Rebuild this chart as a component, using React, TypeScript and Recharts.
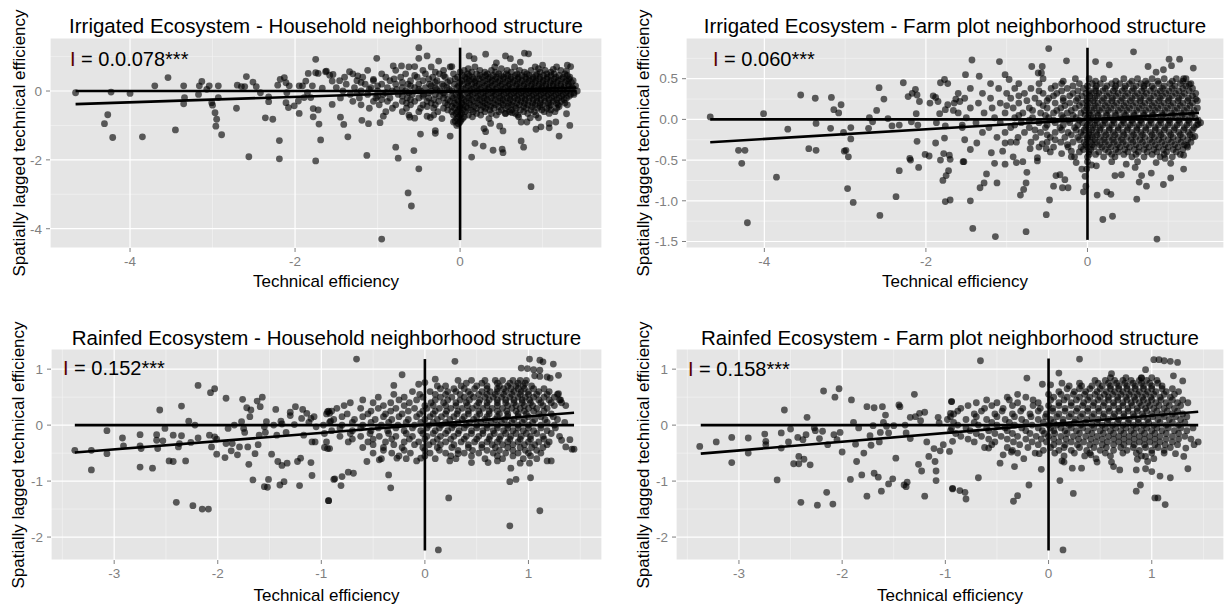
import { ScatterChart, Scatter, XAxis, YAxis, CartesianGrid, ReferenceLine } from 'recharts';

type Pt = [number, number];
type Row = [number, number[]];

// ---- Irrigated, household neighborhood ----
const irrHhSparse: Pt[] = [
  [-4.66, -0.05], [-4.23, -0.03], [-4.0, -0.07], [-4.27, -0.69], [-4.31, -0.95], [-4.21, -1.35], [-3.85, -1.33],
  [-3.54, 0.39], [-3.7, 0.15], [-3.45, -1.13], [-3.35, 0.15], [-3.34, -0.19], [-3.35, -0.37], [-3.17, -0.1],
  [-3.16, 0.15], [-3.13, 0.28], [-3.07, 0.05], [-3.04, 0.15], [-2.93, 0.15], [-2.93, -0.19], [-3.01, -0.34],
  [-3.0, -0.41], [-2.97, -0.63], [-2.95, -0.82], [-2.96, -1.02], [-2.89, -1.27], [-2.7, 0.17], [-2.65, 0.13],
  [-2.61, 0.13], [-2.59, 0.42], [-2.51, 0.26], [-2.47, 0.13], [-2.42, -0.05], [-2.71, -0.5], [-2.56, -1.91],
  [-2.36, -0.78], [-2.27, -0.82], [-2.32, -0.17], [-2.32, -0.31], [-2.21, 0.17], [-2.18, 0.34], [-2.13, 0.39],
  [-2.11, 0.24], [-2.07, 0.15], [-2.1, -0.05], [-2.11, -0.34], [-2.08, -0.48], [-2.19, -1.44], [-2.19, -1.97],
  [-2.01, -0.43], [-1.95, -0.65], [-1.96, -0.29], [-1.95, 0.15], [-1.91, 0.15], [-1.87, 0.29], [-1.84, 0.51],
  [-1.75, 0.92], [-1.75, 0.53], [-1.72, 0.51], [-1.79, 0.15], [-1.81, -0.19], [-1.78, -0.51], [-1.78, -0.75],
  [-1.72, -0.55], [-1.71, -0.96], [-1.69, -1.42], [-1.75, -2.03], [-1.63, 0.56], [-1.58, 0.46], [-1.67, 0.08],
  [-1.55, 0.29], [-1.55, -0.39], [-1.85, -0.05], [-1.89, -0.19],
  [-0.5, 1.26], [-0.5, 0.95], [-0.4, 1.02], [-1.01, 0.95], [-1.13, -1.87], [-0.78, -1.63], [-0.75, -1.95],
  [-0.56, -1.73], [-0.5, -2.26], [-0.63, -2.96], [-0.59, -3.34], [-0.95, -4.3], [-0.48, -1.25], [-0.3, -1.15],
  [-0.3, -1.23], [-0.12, -1.31], [-1.36, -1.33], [-1.41, -0.97], [-1.45, -0.76], [-1.19, -0.85], [-1.11, -0.95],
  [-0.97, -0.92], [-0.93, -0.73], [-0.61, -0.76], [-0.55, -0.79], [-0.4, -0.73], [-0.36, -0.77], [-0.04, -1.0],
  [-0.06, -0.87], [0.14, -1.92], [0.18, -1.52], [0.28, -1.6], [0.4, -1.72], [0.51, -1.69], [0.52, -1.79],
  [0.29, -1.09], [0.31, -1.18], [0.37, -0.94], [0.48, -1.02], [0.52, -1.16], [0.74, -1.45], [0.77, -1.63],
  [0.86, -2.78], [0.92, -1.11], [0.98, -1.04], [1.08, -1.07], [1.2, -1.31], [1.29, -0.66], [1.33, -1.0],
  [1.16, -0.9], [1.08, -0.94], [0.81, -0.9], [0.85, -0.78], [0.95, -0.78], [0.74, -0.9], [0.55, -0.65],
  [0.63, -0.63], [0.67, -0.65], [0.71, -0.75], [1.3, 0.75], [1.34, 0.71], [1.29, 0.58], [1.38, -0.1],
  [0.78, 1.1], [0.55, 1.02], [0.61, 0.94], [0.31, 1.07], [0.11, 1.02], [0.17, 0.94], [0.44, 0.82], [0.73, 0.84],
  [0.83, 1.08], [1.0, 0.75], [1.13, 0.63], [-0.26, 0.87], [-0.71, 0.73], [-0.81, 0.73], [-0.55, 0.71], [-0.1, 0.71],
  [-1.62, 0.58], [-1.54, 0.48], [-1.34, 0.56], [-1.24, 0.44], [-1.05, 0.34],
];
const irrHhRows: Row[] = [
  [0.7, [-0.62, -0.35, -0.12, 0.18, 0.42, 0.66, 0.91, 1.17]],
  [0.6, [-1.12, -0.78, -0.45, -0.2, 0.05, 0.24, 0.38, 0.57, 0.72, 0.86, 1.03, 1.22]],
  [0.5, [-1.3, -0.95, -0.66, -0.42, -0.25, -0.08, 0.09, 0.2, 0.33, 0.47, 0.56, 0.69, 0.81, 0.93, 1.05, 1.14, 1.27]],
  [0.4, [-1.4, -1.18, -0.9, -0.72, -0.52, -0.33, -0.18, -0.03, 0.06, 0.15, 0.27, 0.36, 0.44, 0.53, 0.62, 0.71, 0.79, 0.88, 0.97, 1.06, 1.16, 1.25, 1.33]],
  [0.3, [-1.46, -1.25, -1.05, -0.85, -0.6, -0.45, -0.28, -0.12, 0.02, 0.11, 0.19, 0.3, 0.39, 0.48, 0.58, 0.66, 0.75, 0.84, 0.92, 1.01, 1.1, 1.19, 1.29, 1.37]],
  [0.2, [-1.38, -1.15, -0.95, -0.78, -0.63, -0.5, -0.37, -0.22, -0.07, 0.04, 0.14, 0.23, 0.33, 0.42, 0.51, 0.6, 0.69, 0.78, 0.87, 0.96, 1.04, 1.13, 1.22, 1.31]],
  [0.1, [-1.5, -1.28, -1.08, -0.88, -0.7, -0.55, -0.42, -0.3, -0.16, -0.04, 0.07, 0.17, 0.26, 0.35, 0.45, 0.55, 0.63, 0.72, 0.81, 0.9, 0.99, 1.08, 1.17, 1.26, 1.36]],
  [0.0, [-1.42, -1.2, -1.0, -0.82, -0.66, -0.48, -0.35, -0.24, -0.1, 0.01, 0.12, 0.21, 0.31, 0.4, 0.49, 0.58, 0.67, 0.76, 0.85, 0.94, 1.03, 1.12, 1.21, 1.3, 1.42]],
  [-0.1, [-1.33, -1.12, -0.93, -0.75, -0.58, -0.44, -0.3, -0.18, -0.05, 0.05, 0.15, 0.25, 0.34, 0.43, 0.53, 0.62, 0.71, 0.8, 0.89, 0.98, 1.07, 1.16, 1.25, 1.34]],
  [-0.2, [-1.45, -1.22, -1.02, -0.85, -0.64, -0.5, -0.38, -0.2, -0.08, 0.02, 0.1, 0.2, 0.29, 0.38, 0.48, 0.57, 0.66, 0.75, 0.84, 0.93, 1.02, 1.11, 1.2, 1.29]],
  [-0.3, [-1.3, -1.05, -0.88, -0.7, -0.55, -0.4, -0.26, -0.12, -0.02, 0.07, 0.17, 0.27, 0.36, 0.46, 0.55, 0.64, 0.74, 0.83, 0.93, 1.03, 1.13, 1.23]],
  [-0.4, [-1.2, -0.98, -0.78, -0.6, -0.45, -0.3, -0.15, -0.05, 0.04, 0.13, 0.24, 0.33, 0.43, 0.52, 0.62, 0.72, 0.82, 0.91, 1.0, 1.1, 1.19, 1.3]],
  [-0.5, [-1.1, -0.82, -0.65, -0.48, -0.32, -0.2, -0.07, 0.0, 0.09, 0.2, 0.31, 0.41, 0.55, 0.68, 0.8, 0.94, 1.05, 1.17]],
  [-0.6, [-0.9, -0.7, -0.5, -0.27, -0.1, -0.03, 0.06, 0.16, 0.3, 0.47, 0.6, 0.77, 0.9, 1.02, 1.15]],
  [-0.7, [-0.62, -0.32, -0.08, 0.0, 0.1, 0.25, 0.44, 0.7, 0.92]],
  [-0.8, [-0.22, -0.04, 0.03, 0.35]],
  [-0.9, [-0.08, 0.0]],
];
const irrHhRowsB: Row[] = [
  [0.65, [0.1, 0.5, 0.95]],
  [0.55, [-0.3, 0.0, 0.14, 0.3, 0.43, 0.62, 0.78, 0.97, 1.1]],
  [0.45, [-0.55, -0.2, 0.03, 0.11, 0.24, 0.31, 0.4, 0.5, 0.58, 0.67, 0.75, 0.84, 0.92, 1.01, 1.1, 1.2, 1.3]],
  [0.35, [-0.8, -0.38, -0.06, 0.08, 0.16, 0.23, 0.34, 0.43, 0.52, 0.61, 0.7, 0.8, 0.88, 0.96, 1.05, 1.14, 1.23, 1.32]],
  [0.25, [-1.2, -0.7, -0.3, -0.15, 0.0, 0.09, 0.18, 0.27, 0.37, 0.46, 0.55, 0.64, 0.73, 0.82, 0.91, 1.0, 1.09, 1.17, 1.27, 1.35]],
  [0.15, [-1.0, -0.6, -0.35, -0.2, -0.02, 0.1, 0.2, 0.3, 0.39, 0.49, 0.58, 0.68, 0.77, 0.86, 0.95, 1.04, 1.13, 1.22, 1.32, 1.4]],
  [0.05, [-1.1, -0.77, -0.5, -0.28, -0.13, 0.04, 0.14, 0.24, 0.34, 0.43, 0.52, 0.61, 0.71, 0.8, 0.89, 0.98, 1.07, 1.16, 1.25, 1.34]],
  [-0.05, [-1.25, -0.9, -0.62, -0.38, -0.2, -0.02, 0.09, 0.18, 0.28, 0.38, 0.47, 0.56, 0.65, 0.74, 0.83, 0.92, 1.01, 1.1, 1.19, 1.28, 1.38]],
  [-0.15, [-1.0, -0.7, -0.45, -0.25, -0.1, 0.0, 0.12, 0.22, 0.31, 0.41, 0.5, 0.6, 0.69, 0.78, 0.87, 0.96, 1.05, 1.14, 1.23, 1.32]],
  [-0.25, [-0.95, -0.6, -0.32, -0.15, -0.04, 0.05, 0.14, 0.24, 0.33, 0.43, 0.52, 0.61, 0.7, 0.79, 0.89, 0.98, 1.08, 1.17, 1.26]],
  [-0.35, [-0.65, -0.35, -0.18, -0.07, 0.02, 0.11, 0.21, 0.3, 0.4, 0.5, 0.59, 0.69, 0.78, 0.88, 0.97, 1.07, 1.17, 1.27]],
  [-0.45, [-0.4, -0.1, 0.0, 0.07, 0.17, 0.28, 0.37, 0.47, 0.58, 0.66, 0.77, 0.87, 0.97, 1.08, 1.2]],
  [-0.55, [-0.15, -0.02, 0.04, 0.13, 0.25, 0.36, 0.5, 0.62, 0.73, 0.86, 0.99, 1.1]],
  [-0.65, [-0.05, 0.02, 0.2, 0.38, 0.55, 0.82, 1.08]],
  [-0.75, [-0.02, 0.05, 0.15]],
  [-0.85, [0.01]],
  [-0.95, [-0.02]],
];
const irrHhZero: Pt[] = [[-4.66, 0], [1.41, 0]];
const irrHhFit: Pt[] = [[-4.66, -0.38], [1.41, 0.1]];
const irrHhAxis: Pt[] = [[0, -4.33], [0, 1.26]];

// ---- Irrigated, farm plot neighborhood ----
const irrFpSparse: Pt[] = [
  [-4.67, 0.03], [-4.32, -0.38], [-4.24, -0.38], [-4.28, -0.54], [-4.21, -1.27], [-4.01, 0.07], [-3.85, -0.71],
  [-3.71, -0.12], [-3.55, 0.3], [-3.45, -0.36], [-3.37, 0.26], [-3.36, -0.05], [-3.36, -0.38], [-3.18, -0.11],
  [-3.17, 0.27], [-3.14, 0.12], [-3.08, 0.08], [-3.05, 0.18], [-3.02, -0.16], [-3.01, -0.39], [-2.99, -0.38],
  [-2.96, -0.46], [-2.93, -0.1], [-2.93, -0.24], [-2.97, -0.85], [-2.9, -1.02], [-2.71, -0.11], [-2.7, 0.02],
  [-2.66, -0.03], [-2.61, 0.11], [-2.58, 0.39], [-2.52, 0.25], [-2.47, 0.01], [-2.42, -0.08], [-2.33, -0.63],
  [-2.33, -0.07], [-2.37, -0.95], [-2.57, -1.18], [-2.28, 0.45], [-2.22, 0.28], [-2.2, -0.48], [-2.19, -0.5],
  [-2.18, -0.03], [-2.17, 0.32], [-2.13, 0.37], [-2.11, 0.3], [-2.12, 0.07], [-2.1, -0.07], [-2.08, 0.22],
  [-2.11, -0.27], [-2.09, -0.59], [-2.01, -0.43], [-1.96, -0.45], [-1.95, 0.2], [-1.91, 0.29], [-1.88, 0.27],
  [-1.87, -0.04], [-1.83, 0.07], [-1.85, 0.22], [-1.82, 0.45], [-1.77, 0.49], [-1.73, 0.44], [-1.73, 0.18],
  [-1.76, 0.12], [-1.76, -0.08], [-1.77, -0.23], [-1.78, -0.42], [-1.71, -0.44], [-1.7, -0.49], [-1.82, -0.5],
  [-1.88, -0.29], [-1.72, -0.63], [-1.75, -0.69], [-1.79, -0.75], [-1.76, -1.01], [-1.7, -0.99], [-1.66, 0.11],
  [-1.63, 0.25], [-1.58, 0.22], [-1.55, -0.07], [-1.54, -0.52],
  [-0.48, 0.87], [-1.43, 0.73], [-1.09, 0.71], [-0.26, 0.72], [-0.69, 0.65], [-0.56, 0.65], [-0.61, 0.57],
  [-0.57, 0.57], [-1.51, 0.55], [-1.34, 0.53], [-1.02, 0.55], [-0.97, 0.49], [0.1, 0.71], [0.27, 0.67],
  [0.57, 0.83], [0.75, 0.65], [1.01, 0.74], [1.14, 0.74], [1.31, 0.63], [1.04, 0.66], [0.85, 0.58], [0.94, 0.61],
  [1.19, 0.5], [1.26, 0.43], [1.34, 0.25], [1.37, -0.06], [1.33, -0.21], [1.23, -0.32], [1.19, -0.44],
  [1.19, -0.61], [1.03, -0.72], [1.03, -0.54], [0.96, -0.48], [0.85, -0.53], [0.79, -0.66], [0.73, -0.82],
  [0.61, -0.98], [0.86, -1.47], [0.31, -1.19], [0.19, -1.23], [0.12, -0.93], [0.24, -0.89], [0.29, -0.92],
  [0.34, -0.69], [0.42, -0.68], [0.48, -0.55], [0.59, -0.59], [0.11, -0.57], [0.05, -0.56], [-0.01, -0.61],
  [-0.02, -0.82], [-0.05, -0.89], [-0.03, -0.7], [-0.07, -0.61], [-0.14, -0.53], [-0.28, -0.74], [-0.24, -0.84],
  [-0.31, -0.84], [-0.39, -0.69], [-0.34, -0.68], [-0.42, -0.82], [-0.47, -0.99], [-0.51, -1.17], [-0.76, -1.38],
  [-1.14, -1.44], [-1.42, -1.34], [-1.45, -1.0], [-1.53, -0.52], [-1.33, -0.84], [-1.28, -0.78], [-1.25, -0.67],
  [-1.15, -0.54], [-1.12, -0.78], [-1.02, -0.55], [-0.92, -0.46], [-0.88, -0.53], [-0.83, -0.93], [-0.79, -0.86],
  [-0.76, -0.78], [-0.75, -0.65], [-0.8, -0.52], [-0.71, -0.36], [-0.62, -0.51], [-0.62, -0.47], [-0.56, -0.3],
  [-0.51, -0.36], [-0.32, -0.42], [-0.2, -0.39], [-0.16, -0.46], [-1.19, -0.41], [-1.05, -0.39], [-1.02, -0.29],
  [-1.37, -0.29], [-1.45, -0.37], [-1.52, -0.25], [-0.88, -0.28], [0.64, -0.77], [0.67, -0.69], [0.94, -0.8],
];
const irrFpRows: Row[] = [
  [0.5, [-0.55, -0.15, 0.02, 0.2, 0.45, 0.62, 0.8, 0.95, 1.1, 1.22]],
  [0.44, [-1.2, -0.85, -0.6, -0.32, -0.1, 0.06, 0.16, 0.3, 0.4, 0.52, 0.66, 0.74, 0.88, 1.02, 1.15, 1.28]],
  [0.38, [-1.45, -1.1, -0.9, -0.7, -0.45, -0.25, -0.05, 0.1, 0.22, 0.34, 0.46, 0.57, 0.7, 0.82, 0.93, 1.05, 1.18, 1.3]],
  [0.32, [-1.6, -1.3, -1.0, -0.78, -0.55, -0.38, -0.18, -0.02, 0.05, 0.14, 0.27, 0.38, 0.5, 0.62, 0.73, 0.86, 0.97, 1.09, 1.2, 1.34]],
  [0.26, [-1.52, -1.2, -0.95, -0.65, -0.48, -0.3, -0.12, 0.0, 0.09, 0.2, 0.31, 0.43, 0.55, 0.66, 0.78, 0.9, 1.01, 1.13, 1.25]],
  [0.2, [-1.65, -1.35, -1.08, -0.85, -0.6, -0.4, -0.22, -0.06, 0.03, 0.13, 0.25, 0.36, 0.48, 0.6, 0.71, 0.83, 0.95, 1.06, 1.18, 1.3]],
  [0.14, [-1.45, -1.18, -0.92, -0.72, -0.5, -0.33, -0.15, -0.01, 0.08, 0.18, 0.29, 0.41, 0.52, 0.64, 0.76, 0.87, 0.99, 1.11, 1.23, 1.36]],
  [0.08, [-1.6, -1.28, -1.02, -0.8, -0.58, -0.42, -0.25, -0.08, 0.02, 0.12, 0.23, 0.34, 0.45, 0.57, 0.69, 0.8, 0.92, 1.04, 1.16, 1.28]],
  [0.02, [-1.5, -1.15, -0.9, -0.68, -0.48, -0.3, -0.14, 0.0, 0.07, 0.17, 0.28, 0.4, 0.51, 0.63, 0.74, 0.85, 0.97, 1.09, 1.21, 1.33]],
  [-0.04, [-1.38, -1.08, -0.82, -0.6, -0.4, -0.22, -0.06, 0.03, 0.12, 0.22, 0.33, 0.45, 0.56, 0.67, 0.79, 0.91, 1.02, 1.14, 1.26, 1.4]],
  [-0.1, [-1.55, -1.22, -0.95, -0.72, -0.52, -0.34, -0.16, -0.02, 0.07, 0.16, 0.27, 0.38, 0.5, 0.61, 0.72, 0.84, 0.96, 1.08, 1.2, 1.32]],
  [-0.16, [-1.3, -1.02, -0.78, -0.58, -0.4, -0.24, -0.08, 0.02, 0.11, 0.21, 0.32, 0.44, 0.55, 0.66, 0.78, 0.89, 1.01, 1.13, 1.25]],
  [-0.22, [-1.12, -0.86, -0.64, -0.46, -0.28, -0.12, 0.0, 0.06, 0.16, 0.27, 0.38, 0.49, 0.6, 0.71, 0.83, 0.94, 1.06, 1.18, 1.3]],
  [-0.28, [-0.95, -0.7, -0.5, -0.33, -0.18, -0.04, 0.04, 0.12, 0.22, 0.33, 0.44, 0.56, 0.68, 0.8, 0.92, 1.04, 1.16, 1.28]],
  [-0.34, [-0.6, -0.42, -0.24, -0.08, 0.0, 0.08, 0.18, 0.29, 0.4, 0.52, 0.64, 0.76, 0.88, 1.0, 1.12, 1.24]],
  [-0.4, [-0.46, -0.1, 0.02, 0.14, 0.26, 0.38, 0.5, 0.63, 0.74, 0.86, 0.98, 1.1]],
  [-0.46, [-0.2, 0.0, 0.2, 0.34, 0.55, 0.7, 0.9, 1.05]],
  [-0.52, [0.0, 0.3, 0.62]],
];
const irrFpRowsB: Row[] = [
  [0.47, [-0.3, 0.1, 0.35, 0.55, 0.72, 0.87, 1.05, 1.18]],
  [0.41, [-0.4, -0.18, 0.0, 0.11, 0.24, 0.35, 0.47, 0.6, 0.7, 0.8, 0.95, 1.08, 1.22]],
  [0.35, [-0.6, -0.32, -0.12, 0.02, 0.1, 0.19, 0.32, 0.43, 0.55, 0.67, 0.78, 0.9, 1.01, 1.13, 1.26]],
  [0.29, [-0.85, -0.42, -0.22, -0.07, 0.03, 0.12, 0.24, 0.35, 0.47, 0.59, 0.7, 0.82, 0.93, 1.05, 1.17, 1.3]],
  [0.23, [-0.75, -0.5, -0.3, -0.14, -0.01, 0.07, 0.18, 0.3, 0.41, 0.53, 0.65, 0.76, 0.88, 1.0, 1.12, 1.24, 1.36]],
  [0.17, [-1.0, -0.55, -0.28, -0.1, 0.0, 0.1, 0.22, 0.33, 0.45, 0.56, 0.68, 0.8, 0.91, 1.03, 1.15, 1.27]],
  [0.11, [-0.68, -0.38, -0.2, -0.04, 0.05, 0.15, 0.26, 0.38, 0.49, 0.61, 0.72, 0.84, 0.96, 1.08, 1.2, 1.32]],
  [0.05, [-0.85, -0.52, -0.32, -0.18, -0.03, 0.04, 0.13, 0.24, 0.35, 0.47, 0.58, 0.7, 0.81, 0.93, 1.05, 1.17, 1.29]],
  [-0.01, [-0.72, -0.42, -0.24, -0.1, 0.02, 0.1, 0.21, 0.32, 0.44, 0.55, 0.66, 0.78, 0.9, 1.01, 1.13, 1.25, 1.37]],
  [-0.07, [-0.9, -0.5, -0.3, -0.12, 0.0, 0.09, 0.19, 0.3, 0.42, 0.53, 0.64, 0.76, 0.88, 1.0, 1.11, 1.23, 1.35]],
  [-0.13, [-0.65, -0.32, -0.14, -0.04, 0.05, 0.15, 0.27, 0.38, 0.49, 0.61, 0.72, 0.84, 0.95, 1.07, 1.19, 1.3]],
  [-0.19, [-0.5, -0.2, -0.05, 0.04, 0.12, 0.23, 0.34, 0.45, 0.57, 0.68, 0.8, 0.91, 1.03, 1.15, 1.27]],
  [-0.25, [-0.4, -0.1, 0.0, 0.09, 0.2, 0.31, 0.42, 0.54, 0.65, 0.77, 0.88, 1.0, 1.12, 1.24]],
  [-0.31, [-0.25, -0.02, 0.06, 0.15, 0.26, 0.37, 0.48, 0.6, 0.72, 0.84, 0.96, 1.08, 1.2]],
  [-0.37, [-0.05, 0.04, 0.22, 0.35, 0.46, 0.58, 0.7, 0.82, 0.94, 1.06, 1.18]],
  [-0.43, [0.02, 0.1, 0.3, 0.45, 0.6, 0.8, 0.95, 1.15]],
];
const irrFpZero: Pt[] = [[-4.67, 0], [1.38, 0]];
const irrFpFit: Pt[] = [[-4.67, -0.28], [1.38, 0.08]];
const irrFpAxis: Pt[] = [[0, -1.48], [0, 0.88]];

// ---- Rainfed, household neighborhood ----
const rainHhSparse: Pt[] = [
  [-3.38, -0.45], [-3.22, -0.45], [-3.22, -0.8], [-3.07, -0.1], [-3.07, -0.51], [-2.92, -0.23], [-2.91, -0.37],
  [-2.75, -0.17], [-2.75, -0.37], [-2.74, -0.42], [-2.75, -0.75], [-2.63, -0.77], [-2.59, -0.17], [-2.59, -0.27],
  [-2.58, -0.42], [-2.56, 0.27], [-2.53, -0.28], [-2.51, -0.06], [-2.47, -0.64], [-2.43, -0.65], [-2.43, -0.18],
  [-2.38, -0.39], [-2.37, -0.33], [-2.35, 0.34], [-2.35, -0.19], [-2.31, -0.64], [-2.4, -1.38], [-2.24, -1.44],
  [-2.15, -1.5], [-2.09, -1.5], [-2.28, 0.07], [-2.22, 0.0], [-2.26, -0.31], [-2.19, 0.71], [-2.19, -0.23],
  [-2.07, 0.58], [-2.03, 0.65], [-2.08, -0.18], [-2.03, -0.21], [-2.01, -0.25], [-2.06, -0.39], [-2.01, -0.52],
  [-1.93, -0.58], [-1.92, 0.48], [-1.92, -0.33], [-1.9, -0.06], [-1.87, -0.46], [-1.86, -0.33], [-1.84, 0.0],
  [-1.81, -0.53], [-1.79, -0.39], [-1.76, 0.46], [-1.77, 0.06], [-1.75, -0.06], [-1.74, -0.13], [-1.72, 0.31],
  [-1.71, -0.39], [-1.7, -0.7], [-1.69, 0.15], [-1.68, 0.27], [-1.66, -0.98], [-1.64, -0.51], [-1.62, 0.43],
  [-1.61, -0.35], [-1.6, -0.18], [-1.59, 0.33], [-1.57, 0.5], [-1.55, -0.03], [-1.54, -0.13], [-1.53, 0.06],
  [-1.55, -1.1], [-1.52, -1.11], [-1.51, -0.97], [-1.48, -0.52], [-1.46, 0.0], [-1.44, 0.28], [-1.43, -0.18],
  [-1.42, -0.65], [-1.39, 0.07], [-1.38, 0.02], [-1.38, -0.72], [-1.36, -1.01], [-1.4, -1.07], [-1.33, -0.68],
  [-1.34, -0.13], [-1.3, 0.23], [-1.3, 0.17], [-1.26, 0.01], [-1.25, 0.33], [-1.23, -0.65], [-1.21, -1.08],
  [-1.2, -0.59], [-1.19, 0.12], [-1.18, 0.28], [-1.17, -0.18], [-1.14, 0.21], [-1.12, 0.05], [-1.1, 0.12],
  [-1.09, -0.9], [-1.1, -0.67], [-1.09, -0.3], [-1.07, 0.15], [-1.05, -0.03], [-1.06, -0.3], [-0.97, -0.15],
  [-0.94, 0.24], [-0.92, 0.21], [-0.93, -1.35], [-0.92, -0.42], [-0.91, 0.07], [-0.88, -0.97],
  [-0.66, 1.18], [0.29, 1.14], [-0.22, 0.9], [-0.3, 0.71], [-0.06, 0.73], [0.0, 0.76], [0.1, 0.82], [1.01, 1.18],
  [1.11, 1.16], [1.14, 1.13], [1.24, 1.09], [0.93, 1.02], [0.99, 1.01], [1.05, 0.99], [1.11, 0.98], [1.06, 0.88],
  [1.11, 0.87], [1.18, 0.86], [1.21, 0.84], [1.29, 0.89], [1.29, 0.56], [1.31, 0.45], [-0.93, 0.25],
  [-0.93, -1.35], [-0.87, -0.96], [-0.81, -1.08], [-0.8, -0.92], [-0.74, -0.84], [-0.69, -0.86], [-0.35, -0.89],
  [-0.33, -1.12], [0.23, -1.3], [0.13, -2.23], [0.82, -1.8], [1.11, -1.53], [0.82, -1.01], [0.88, -0.97],
  [1.02, -0.94], [0.83, -0.77], [0.92, -0.68], [1.01, -0.68], [1.18, -0.64], [1.22, -0.64], [1.42, -0.43],
  [1.44, -0.43], [1.4, -0.26], [1.32, -0.27], [1.36, -0.39], [0.45, -0.67], [0.61, -0.67], [0.7, -0.64],
  [0.24, -0.64], [0.32, -0.51], [-0.08, -0.64], [-0.04, -0.59], [-0.27, -0.59], [-0.56, -0.65], [-0.44, -0.62],
  [-0.97, -0.4], [-0.94, -0.42],
];
const rainHhRows: Row[] = [
  [0.8, [0.32, 0.45, 0.58, 0.68, 0.75, 0.85, 0.92, 0.98]],
  [0.7, [0.12, 0.2, 0.35, 0.5, 0.6, 0.72, 0.8, 0.88, 0.95, 1.03]],
  [0.6, [-0.12, 0.05, 0.22, 0.3, 0.42, 0.55, 0.63, 0.7, 0.78, 0.86, 0.93, 1.0, 1.1, 1.2]],
  [0.5, [-0.45, -0.2, -0.02, 0.15, 0.26, 0.38, 0.47, 0.58, 0.66, 0.74, 0.82, 0.9, 0.97, 1.05, 1.15, 1.25]],
  [0.4, [-0.72, -0.5, -0.33, -0.15, 0.06, 0.18, 0.3, 0.4, 0.52, 0.6, 0.7, 0.78, 0.86, 0.94, 1.02, 1.12, 1.22, 1.32]],
  [0.3, [-0.85, -0.62, -0.45, -0.28, -0.1, 0.02, 0.14, 0.25, 0.36, 0.46, 0.56, 0.65, 0.75, 0.84, 0.92, 1.0, 1.08, 1.18]],
  [0.2, [-0.95, -0.75, -0.55, -0.38, -0.22, -0.05, 0.08, 0.2, 0.31, 0.42, 0.53, 0.62, 0.72, 0.8, 0.9, 0.98, 1.1, 1.22]],
  [0.1, [-0.88, -0.68, -0.48, -0.32, -0.16, 0.0, 0.12, 0.24, 0.36, 0.47, 0.58, 0.68, 0.77, 0.86, 0.96, 1.06, 1.16, 1.28]],
  [0.0, [-0.98, -0.8, -0.6, -0.42, -0.26, -0.1, 0.04, 0.16, 0.28, 0.4, 0.5, 0.6, 0.7, 0.8, 0.9, 1.0, 1.12, 1.25]],
  [-0.1, [-0.9, -0.7, -0.52, -0.36, -0.2, -0.04, 0.1, 0.22, 0.33, 0.45, 0.56, 0.66, 0.76, 0.85, 0.95, 1.05, 1.18]],
  [-0.2, [-0.82, -0.62, -0.44, -0.28, -0.12, 0.02, 0.15, 0.28, 0.4, 0.52, 0.63, 0.73, 0.83, 0.93, 1.02, 1.14, 1.3]],
  [-0.3, [-0.95, -0.74, -0.55, -0.38, -0.2, -0.06, 0.08, 0.2, 0.35, 0.48, 0.6, 0.7, 0.8, 0.9, 1.0, 1.1, 1.2]],
  [-0.4, [-0.6, -0.4, -0.22, -0.02, 0.12, 0.26, 0.42, 0.55, 0.68, 0.8, 0.92, 1.03, 1.14]],
  [-0.5, [-0.5, -0.32, -0.14, 0.05, 0.2, 0.38, 0.52, 0.66, 0.78, 0.9, 1.0, 1.12]],
  [-0.6, [-0.42, -0.18, 0.1, 0.3, 0.58, 0.75, 0.95, 1.08]],
];
const rainHhRowsB: Row[] = [
  [0.75, [0.4, 0.55, 0.7, 0.82, 0.9, 0.97]],
  [0.65, [0.15, 0.28, 0.38, 0.48, 0.6, 0.7, 0.76, 0.83, 0.9, 0.96, 1.05, 1.15]],
  [0.55, [-0.3, -0.05, 0.1, 0.2, 0.34, 0.44, 0.52, 0.6, 0.68, 0.76, 0.84, 0.92, 1.0, 1.08, 1.18, 1.28]],
  [0.45, [-0.6, -0.25, -0.08, 0.1, 0.22, 0.34, 0.43, 0.53, 0.62, 0.7, 0.78, 0.86, 0.94, 1.01, 1.1, 1.2, 1.3]],
  [0.35, [-0.78, -0.4, -0.2, 0.0, 0.08, 0.2, 0.3, 0.41, 0.5, 0.6, 0.7, 0.8, 0.88, 0.96, 1.04, 1.14, 1.25, 1.36]],
  [0.25, [-0.9, -0.52, -0.33, -0.16, -0.02, 0.1, 0.21, 0.32, 0.42, 0.52, 0.62, 0.7, 0.79, 0.88, 0.96, 1.05, 1.15]],
  [0.15, [-0.8, -0.6, -0.4, -0.25, -0.08, 0.05, 0.16, 0.28, 0.38, 0.5, 0.6, 0.7, 0.8, 0.9, 1.0, 1.12, 1.24]],
  [0.05, [-0.92, -0.7, -0.52, -0.35, -0.18, -0.04, 0.08, 0.2, 0.32, 0.43, 0.54, 0.64, 0.74, 0.84, 0.94, 1.04, 1.18, 1.35]],
  [-0.05, [-0.82, -0.62, -0.45, -0.28, -0.12, 0.02, 0.14, 0.26, 0.38, 0.5, 0.6, 0.7, 0.8, 0.9, 1.0, 1.12, 1.26]],
  [-0.15, [-0.72, -0.53, -0.35, -0.18, -0.02, 0.08, 0.2, 0.32, 0.45, 0.56, 0.67, 0.78, 0.88, 0.98, 1.08, 1.22]],
  [-0.25, [-0.7, -0.5, -0.32, -0.15, 0.0, 0.12, 0.25, 0.38, 0.5, 0.62, 0.72, 0.82, 0.92, 1.02, 1.15]],
  [-0.35, [-0.5, -0.3, -0.1, 0.04, 0.15, 0.28, 0.42, 0.55, 0.65, 0.75, 0.85, 0.96, 1.06, 1.18]],
  [-0.45, [-0.4, -0.2, 0.0, 0.14, 0.32, 0.46, 0.6, 0.72, 0.85, 0.97, 1.08]],
  [-0.55, [-0.25, 0.0, 0.25, 0.45, 0.7, 0.85, 1.02]],
];
const rainHhZero: Pt[] = [[-3.38, 0], [1.44, 0]];
const rainHhFit: Pt[] = [[-3.38, -0.49], [1.44, 0.22]];
const rainHhAxis: Pt[] = [[0, -2.24], [0, 1.18]];

// ---- Rainfed, farm plot neighborhood ----
const rainFpSparse: Pt[] = [
  [-3.38, -0.38], [-3.22, -0.3], [-3.07, -0.22], [-3.07, -0.67], [-2.91, -0.23], [-2.91, -0.5], [-2.75, -0.16],
  [-2.74, -0.29], [-2.74, -0.35], [-2.63, -0.98], [-2.59, -0.14], [-2.59, -0.41], [-2.56, 0.27], [-2.52, -0.3],
  [-2.5, -0.07], [-2.47, -0.69], [-2.42, -0.69], [-2.42, -0.56], [-2.43, -0.22], [-2.38, -0.26], [-2.37, -0.61],
  [-2.35, -0.17], [-2.34, 0.14], [-2.31, -0.71], [-2.4, -1.38], [-2.24, -1.43], [-2.15, -1.2], [-2.09, -1.41],
  [-2.27, -0.05], [-2.26, -0.1], [-2.22, -0.24], [-2.19, -0.11], [-2.18, 0.61], [-2.14, -0.35], [-2.08, -0.17],
  [-2.07, 0.5], [-2.03, 0.65], [-2.05, -0.26], [-2.02, -0.13], [-2.0, -0.48], [-1.92, -0.97], [-1.91, 0.45],
  [-1.89, 0.05], [-1.87, -0.34], [-1.86, -0.65], [-1.84, -0.05], [-1.81, -0.89], [-1.79, -0.5], [-1.76, 0.33],
  [-1.76, -1.27], [-1.73, -0.19], [-1.72, -0.36], [-1.7, -0.01], [-1.69, 0.31], [-1.69, -0.86], [-1.65, -0.93],
  [-1.64, -0.3], [-1.63, -0.13], [-1.62, -1.18], [-1.61, 0.33], [-1.6, 0.05], [-1.58, 0.18], [-1.57, -0.02],
  [-1.55, -0.14], [-1.55, -1.05], [-1.51, -0.96], [-1.5, -0.01], [-1.48, -0.59], [-1.45, 0.36], [-1.44, 0.33],
  [-1.4, -1.07], [-1.38, -1.1], [-1.37, -1.02], [-1.39, 0.0], [-1.38, -0.14], [-1.34, -0.24], [-1.34, 0.14],
  [-1.3, 0.55], [-1.29, 0.15], [-1.25, 0.21], [-1.24, 0.08], [-1.26, -0.7], [-1.23, -0.82], [-1.2, -1.27],
  [-1.2, 0.23], [-1.18, -0.3], [-1.16, -0.56], [-1.11, -0.42], [-1.1, -0.65], [-1.09, -0.82], [-1.09, -0.99],
  [-1.07, 0.14], [-1.06, 0.04], [-1.05, -0.46], [-1.02, -0.35], [-0.94, 0.42], [-0.95, 0.21], [-0.93, -1.14],
  [-0.94, -0.05], [-0.93, -0.29],
  [-0.66, 1.15], [0.3, 1.18], [-0.21, 0.84], [0.1, 0.93], [-0.06, 0.73], [0.02, 0.72], [0.13, 0.75], [1.02, 1.17],
  [1.07, 1.17], [1.12, 1.15], [1.18, 1.14], [1.25, 1.12], [0.94, 0.99], [1.21, 0.88], [1.3, 0.79], [0.9, 0.84],
  [0.61, 0.92], [-0.94, 0.42], [-0.68, -0.94], [-0.93, -1.13], [-0.86, -1.17], [-0.81, -1.2], [-0.8, -1.32],
  [-0.34, -1.36], [-0.3, -1.26], [-0.19, -1.07], [0.11, -0.99], [0.24, -1.22], [0.14, -2.23], [0.85, -1.18],
  [0.89, -1.07], [1.03, -1.3], [1.06, -1.3], [1.13, -1.42], [1.18, -0.94], [1.08, -0.91], [1.0, -0.83],
  [0.94, -0.78], [0.85, -0.8], [0.96, -0.65], [1.02, -0.6], [0.94, -0.56], [0.86, -0.61], [1.35, -0.78],
  [1.31, -0.56], [1.23, -0.51], [1.33, -0.41], [1.41, -0.35], [1.45, -0.3], [0.61, -0.66], [0.69, -0.8],
  [0.63, -0.74], [0.47, -0.66], [0.46, -0.6], [0.41, -0.53], [0.32, -0.77], [0.23, -0.77], [0.13, -0.64],
  [0.15, -0.66], [-0.07, -0.79], [-0.24, -0.6], [-0.33, -0.74], [-0.36, -0.48], [-0.47, -0.68], [-0.44, -0.53],
  [-0.58, -0.41], [-0.13, -0.5], [-0.09, -0.51], [-0.96, -0.47],
];
const rainFpRows: Row[] = [
  [0.8, [0.45, 0.55, 0.64, 0.72, 0.8, 0.88, 0.95, 1.05]],
  [0.7, [0.2, 0.32, 0.42, 0.52, 0.6, 0.68, 0.76, 0.84, 0.92, 1.0, 1.1]],
  [0.6, [0.1, 0.25, 0.36, 0.47, 0.56, 0.64, 0.72, 0.8, 0.88, 0.96, 1.04, 1.14, 1.26]],
  [0.5, [-0.4, -0.22, 0.05, 0.18, 0.3, 0.4, 0.5, 0.58, 0.67, 0.75, 0.83, 0.91, 0.99, 1.08, 1.18]],
  [0.4, [-0.7, -0.5, -0.3, -0.1, 0.1, 0.22, 0.34, 0.44, 0.54, 0.63, 0.72, 0.8, 0.88, 0.96, 1.04, 1.14, 1.25, 1.35]],
  [0.3, [-0.85, -0.62, -0.44, -0.25, -0.08, 0.04, 0.16, 0.28, 0.38, 0.48, 0.58, 0.68, 0.77, 0.86, 0.94, 1.02, 1.12, 1.22]],
  [0.2, [-0.92, -0.72, -0.52, -0.35, -0.18, -0.02, 0.1, 0.22, 0.33, 0.44, 0.54, 0.64, 0.73, 0.82, 0.91, 1.0, 1.1, 1.2, 1.3]],
  [0.1, [-0.98, -0.8, -0.6, -0.42, -0.26, -0.1, 0.02, 0.14, 0.26, 0.37, 0.48, 0.58, 0.68, 0.78, 0.87, 0.96, 1.06, 1.17, 1.28]],
  [0.0, [-0.88, -0.68, -0.5, -0.33, -0.16, 0.0, 0.08, 0.2, 0.31, 0.42, 0.52, 0.62, 0.72, 0.82, 0.92, 1.02, 1.14, 1.26]],
  [-0.1, [-0.95, -0.76, -0.58, -0.4, -0.22, -0.06, 0.05, 0.16, 0.27, 0.38, 0.5, 0.6, 0.7, 0.8, 0.9, 1.0, 1.1, 1.22, 1.34]],
  [-0.2, [-0.85, -0.65, -0.46, -0.3, -0.12, 0.0, 0.12, 0.24, 0.36, 0.47, 0.58, 0.68, 0.78, 0.88, 0.98, 1.08, 1.2, 1.32]],
  [-0.3, [-0.72, -0.52, -0.34, -0.16, -0.02, 0.1, 0.22, 0.34, 0.46, 0.57, 0.68, 0.78, 0.88, 0.98, 1.08, 1.2]],
  [-0.4, [-0.62, -0.4, -0.2, 0.02, 0.15, 0.3, 0.44, 0.56, 0.7, 0.82, 0.94, 1.06, 1.18]],
  [-0.5, [-0.3, 0.06, 0.25, 0.4, 0.55, 0.72, 0.85, 1.0, 1.12]],
];
const rainFpRowsB: Row[] = [
  [0.85, [0.6, 0.75, 0.9, 1.0]],
  [0.75, [0.3, 0.48, 0.58, 0.66, 0.74, 0.82, 0.9, 0.98, 1.06]],
  [0.65, [0.18, 0.3, 0.4, 0.5, 0.6, 0.68, 0.76, 0.84, 0.92, 1.0, 1.1, 1.2]],
  [0.55, [-0.3, 0.0, 0.12, 0.24, 0.35, 0.45, 0.54, 0.62, 0.7, 0.78, 0.86, 0.94, 1.02, 1.12, 1.22]],
  [0.45, [-0.6, -0.38, -0.15, 0.02, 0.15, 0.27, 0.38, 0.48, 0.58, 0.67, 0.76, 0.84, 0.92, 1.0, 1.09, 1.2, 1.3]],
  [0.35, [-0.78, -0.55, -0.35, -0.15, 0.0, 0.1, 0.22, 0.33, 0.43, 0.53, 0.63, 0.72, 0.81, 0.9, 0.98, 1.07, 1.17, 1.28]],
  [0.25, [-0.88, -0.65, -0.45, -0.27, -0.1, 0.04, 0.16, 0.27, 0.38, 0.49, 0.59, 0.68, 0.77, 0.86, 0.95, 1.05, 1.15, 1.25]],
  [0.15, [-0.95, -0.7, -0.5, -0.33, -0.17, -0.03, 0.08, 0.2, 0.31, 0.42, 0.53, 0.63, 0.73, 0.83, 0.92, 1.01, 1.12, 1.23, 1.34]],
  [0.05, [-0.92, -0.72, -0.55, -0.38, -0.22, -0.05, 0.05, 0.14, 0.25, 0.36, 0.47, 0.57, 0.67, 0.77, 0.87, 0.97, 1.08, 1.2, 1.32]],
  [-0.05, [-0.8, -0.6, -0.42, -0.26, -0.1, 0.02, 0.12, 0.22, 0.33, 0.44, 0.55, 0.65, 0.75, 0.85, 0.95, 1.05, 1.16, 1.28, 1.4]],
  [-0.15, [-0.9, -0.7, -0.52, -0.35, -0.18, -0.04, 0.06, 0.18, 0.3, 0.42, 0.53, 0.63, 0.73, 0.83, 0.93, 1.03, 1.14, 1.26]],
  [-0.25, [-0.78, -0.58, -0.4, -0.22, -0.07, 0.05, 0.17, 0.29, 0.41, 0.52, 0.63, 0.73, 0.83, 0.93, 1.03, 1.14, 1.26, 1.38]],
  [-0.35, [-0.55, -0.28, -0.1, 0.05, 0.16, 0.28, 0.4, 0.52, 0.63, 0.73, 0.83, 0.93, 1.03, 1.13, 1.25]],
  [-0.45, [-0.35, -0.05, 0.1, 0.22, 0.37, 0.5, 0.63, 0.76, 0.88, 1.0, 1.12]],
  [-0.55, [0.15, 0.35, 0.6, 0.9]],
];
const rainFpZero: Pt[] = [[-3.37, 0], [1.45, 0]];
const rainFpFit: Pt[] = [[-3.37, -0.51], [1.45, 0.24]];
const rainFpAxis: Pt[] = [[0, -2.24], [0, 1.19]];

// axis breaks
const irrXTicks = [-4, -2, 0];
const irrXMinor = [-3, -1, 1];
const irrHhYTicks = [-4, -2, 0];
const irrHhYMinor = [-3, -1, 1];
const irrFpYTicks = [-1.5, -1, -0.5, 0, 0.5];
const irrFpYMinor = [-1.25, -0.75, -0.25, 0.25, 0.75];
const rainXTicks = [-3, -2, -1, 0, 1];
const rainXMinor = [-3.5, -2.5, -1.5, -0.5, 0.5, 1.5];
const rainYTicks = [-2, -1, 0, 1];
const rainYMinor = [-1.5, -0.5, 0.5];

const titles = [
  'Irrigated Ecosystem - Household neighborhood structure',
  'Irrigated Ecosystem - Farm plot neighborhood structure',
  'Rainfed Ecosystem - Household neighborhood structure',
  'Rainfed Ecosystem - Farm plot neighborhood structure',
];
const moranValues = ['0.0.078***', '0.060***', '0.152***', '0.158***'];

const FONT = '"Liberation Sans", Arial, Helvetica, sans-serif';
const TICK_GREY = '#7F7F7F';

const toPoints = (sparse: Pt[], ...rowSets: Row[][]) => [
  ...sparse.map(([x, y]) => ({ x, y })),
  ...rowSets.flatMap((rows) => rows.flatMap(([y, xs]) => xs.map((x) => ({ x, y })))),
];

const scaleOf = (axis: any, v: number) => {
  const s = axis?.scale;
  if (!s) return NaN;
  return typeof s === 'function' ? s(v) : s.map(v);
};

const Dot = (props: any) => (
  <circle cx={props.cx} cy={props.cy} r={3.4} fill="#000" fillOpacity={0.62} />
);

interface PanelProps {
  left: number;
  top: number;
  width: number;
  height: number;
  yAxisWidth: number;
  xAxisHeight: number;
  marginTop: number;
  marginRight: number;
  xDomain: [number, number];
  yDomain: [number, number];
  xTicks: number[];
  yTicks: number[];
  xMinor: number[];
  yMinor: number[];
  yFormat?: (v: number) => string;
  points: { x: number; y: number }[];
  zero: Pt[];
  fit: Pt[];
  axis: Pt[];
  title: string;
  titleY: number;
  stat: string;
  statX: number;
  statY: number;
  yLabelX: number;
  xLabelY: number;
}

function Panel(p: PanelProps) {
  const plotLeft = p.left + p.yAxisWidth;
  const plotRight = p.left + p.width - p.marginRight;
  const plotTop = p.top + p.marginTop;
  const plotBottom = p.top + p.height - p.xAxisHeight;
  const cx = (plotLeft + plotRight) / 2;
  const cy = (plotTop + plotBottom) / 2;
  const seg = (s: Pt[]) => [{ x: s[0][0], y: s[0][1] }, { x: s[1][0], y: s[1][1] }];

  return (
    <>
      <div style={{ position: 'absolute', left: p.left, top: p.top }}>
        <ScatterChart
          width={p.width}
          height={p.height}
          margin={{ top: p.marginTop, right: p.marginRight, bottom: 0, left: 0 }}
        >
          <CartesianGrid
            fill="#E5E5E5"
            fillOpacity={1}
            stroke="#F2F2F2"
            strokeWidth={0.7}
            horizontalCoordinatesGenerator={({ yAxis }: any) =>
              p.yMinor.map((v) => scaleOf(yAxis, v)).filter((n) => Number.isFinite(n))
            }
            verticalCoordinatesGenerator={({ xAxis }: any) =>
              p.xMinor.map((v) => scaleOf(xAxis, v)).filter((n) => Number.isFinite(n))
            }
          />
          <CartesianGrid stroke="#FFFFFF" strokeWidth={1.2} />
          <XAxis
            type="number"
            dataKey="x"
            domain={p.xDomain}
            ticks={p.xTicks}
            interval={0}
            allowDataOverflow
            axisLine={false}
            tickLine={{ stroke: TICK_GREY }}
            tickSize={4}
            tickMargin={4}
            height={p.xAxisHeight}
            tick={{ fill: TICK_GREY, fontSize: 13.5, fontFamily: FONT }}
          />
          <YAxis
            type="number"
            dataKey="y"
            domain={p.yDomain}
            ticks={p.yTicks}
            interval={0}
            allowDataOverflow
            axisLine={false}
            tickLine={{ stroke: TICK_GREY }}
            tickSize={4}
            tickMargin={4}
            width={p.yAxisWidth}
            tickFormatter={p.yFormat ?? ((v: number) => String(v))}
            tick={{ fill: TICK_GREY, fontSize: 13.5, fontFamily: FONT }}
          />
          <Scatter data={p.points} shape={Dot} isAnimationActive={false} />
          <ReferenceLine segment={seg(p.zero)} stroke="#000" strokeWidth={2.6} />
          <ReferenceLine segment={seg(p.fit)} stroke="#000" strokeWidth={2.6} />
          <ReferenceLine segment={seg(p.axis)} stroke="#000" strokeWidth={2.6} />
        </ScatterChart>
      </div>
      <div
        style={{
          position: 'absolute', left: cx, top: p.titleY, transform: 'translate(-50%, -50%)',
          fontSize: 20.5, lineHeight: 1, whiteSpace: 'nowrap', color: '#000',
        }}
      >
        {p.title}
      </div>
      <div
        style={{
          position: 'absolute', left: p.statX, top: p.statY, transform: 'translateY(-50%)',
          fontSize: 20, lineHeight: 1, whiteSpace: 'nowrap', color: '#000',
        }}
      >
        <span style={{ color: '#5A0000' }}>I</span> = {p.stat}
      </div>
      <div
        style={{
          position: 'absolute', left: cx, top: p.xLabelY, transform: 'translate(-50%, -50%)',
          fontSize: 17, lineHeight: 1, whiteSpace: 'nowrap', color: '#000',
        }}
      >
        Technical efficiency
      </div>
      <div
        style={{
          position: 'absolute', left: p.yLabelX, top: cy, transform: 'translate(-50%, -50%) rotate(-90deg)',
          fontSize: 17, lineHeight: 1, whiteSpace: 'nowrap', color: '#000',
        }}
      >
        Spatially lagged technical efficiency
      </div>
    </>
  );
}

export default function App() {
  return (
    <div
      style={{
        position: 'absolute', left: 0, top: 0, width: 1225, height: 613,
        background: '#fff', fontFamily: FONT, overflow: 'hidden',
      }}
    >
      <Panel
        left={0} top={0} width={612} height={300}
        yAxisWidth={50} xAxisHeight={52} marginTop={38} marginRight={10}
        xDomain={[-4.97, 1.72]} yDomain={[-4.56, 1.54]}
        xTicks={irrXTicks} yTicks={irrHhYTicks} xMinor={irrXMinor} yMinor={irrHhYMinor}
        points={toPoints(irrHhSparse, irrHhRows, irrHhRowsB)}
        zero={irrHhZero} fit={irrHhFit} axis={irrHhAxis}
        title={titles[0]} titleY={26} stat={moranValues[0]} statX={70} statY={59}
        yLabelX={19} xLabelY={281}
      />
      <Panel
        left={612} top={0} width={613} height={300}
        yAxisWidth={74} xAxisHeight={52} marginTop={38} marginRight={1}
        xDomain={[-4.97, 1.69]} yDomain={[-1.58, 1.0]}
        xTicks={irrXTicks} yTicks={irrFpYTicks} xMinor={irrXMinor} yMinor={irrFpYMinor}
        yFormat={(v: number) => v.toFixed(1)}
        points={toPoints(irrFpSparse, irrFpRows, irrFpRowsB)}
        zero={irrFpZero} fit={irrFpFit} axis={irrFpAxis}
        title={titles[1]} titleY={26} stat={moranValues[1]} statX={713} statY={59}
        yLabelX={643} xLabelY={281}
      />
      <Panel
        left={0} top={300} width={612} height={313}
        yAxisWidth={51} xAxisHeight={53} marginTop={49} marginRight={10}
        xDomain={[-3.61, 1.71]} yDomain={[-2.41, 1.36]}
        xTicks={rainXTicks} yTicks={rainYTicks} xMinor={rainXMinor} yMinor={rainYMinor}
        points={toPoints(rainHhSparse, rainHhRows, rainHhRowsB)}
        zero={rainHhZero} fit={rainHhFit} axis={rainHhAxis}
        title={titles[2]} titleY={338} stat={moranValues[2]} statX={63} statY={368}
        yLabelX={18} xLabelY={595}
      />
      <Panel
        left={612} top={300} width={613} height={313}
        yAxisWidth={64} xAxisHeight={53} marginTop={49} marginRight={1}
        xDomain={[-3.61, 1.7]} yDomain={[-2.41, 1.36]}
        xTicks={rainXTicks} yTicks={rainYTicks} xMinor={rainXMinor} yMinor={rainYMinor}
        points={toPoints(rainFpSparse, rainFpRows, rainFpRowsB)}
        zero={rainFpZero} fit={rainFpFit} axis={rainFpAxis}
        title={titles[3]} titleY={338} stat={moranValues[3]} statX={688} statY={369}
        yLabelX={643} xLabelY={595}
      />
    </div>
  );
}
